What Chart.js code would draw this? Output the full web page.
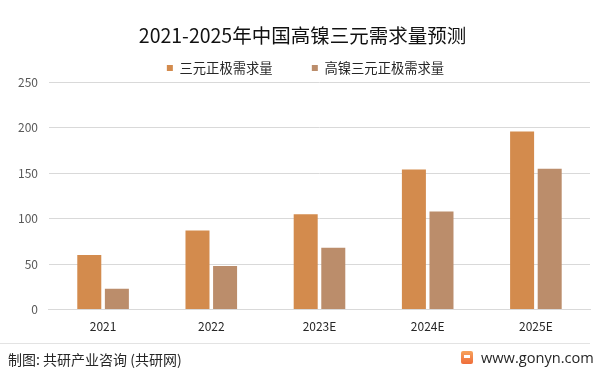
<!DOCTYPE html>
<html><head><meta charset="utf-8">
<script src="https://cdn.jsdelivr.net/npm/chart.js@4/dist/chart.umd.min.js"></script>
<style>
html,body{margin:0;padding:0;background:#fff;}
#wrap{position:relative;width:602px;height:374px;overflow:hidden;font-family:"Noto Sans CJK SC","Noto Sans",sans-serif;}
canvas{position:absolute;left:0;top:0;}
#line{position:absolute;left:0;top:343px;width:590px;height:1px;background:#e3e3e3;}
#src{position:absolute;left:8px;top:349px;font-size:14px;color:#262626;line-height:20px;}
#site{position:absolute;left:481px;top:347px;font-size:14.6px;color:#262626;line-height:20px;font-family:"Open Sans","Noto Sans",sans-serif;}
#logo{position:absolute;left:461px;top:351px;width:12px;height:13px;background:linear-gradient(#f7a35c,#ef6d3a);border-radius:2px;}
#logo:after{content:"";position:absolute;left:3px;top:4px;width:6px;height:3px;background:#fff;}
</style></head>
<body><div id="wrap"><canvas id="c" width="602" height="374"></canvas>
<div id="line"></div>
<div id="src">制图: 共研产业咨询 (共研网)</div>
<div id="logo"></div><div id="site">www.gonyn.com</div>
</div>
<script>
const categories = ["2021", "2022", "2023E", "2024E", "2025E"];
const seriesNames = ["三元正极需求量", "高镍三元正极需求量"];
const cathodeDemand = [60, 87, 105, 154, 196];
const highNickelDemand = [23, 48, 68, 108, 155];
const yTicks = [0, 50, 100, 150, 200, 250];

const shiftBlocks = {
  id: 'shiftBlocks',
  afterLayout(chart) {
    if (chart.legend) { chart.legend.left += 7; chart.legend.right += 7; }
    if (chart.titleBlock) { chart.titleBlock.left += 4; chart.titleBlock.right += 4; }
  }
};

new Chart(document.getElementById('c'), {
  type: 'bar',
  data: {
    labels: categories,
    datasets: [
      {label: seriesNames[0], data: cathodeDemand, backgroundColor: '#D38B4D', categoryPercentage: 0.51, barPercentage: 0.87},
      {label: seriesNames[1], data: highNickelDemand, backgroundColor: '#BB8D6B', categoryPercentage: 0.51, barPercentage: 0.87}
    ]
  },
  plugins: [shiftBlocks],
  options: {
    responsive: false,
    animation: false,
    layout: {padding: {left: 7, right: 12, top: 14, bottom: 30}},
    plugins: {
      title: {display: true, text: '2021-2025年中国高镍三元需求量预测', color: '#111', font: {family: '"Noto Sans CJK SC"', size: 19.5, weight: 'normal'}, padding: {top: 9.5, bottom: 8.4}},
      legend: {position: 'top', maxHeight: 27, labels: {boxWidth: 6, boxHeight: 6, color: '#262626', font: {family: '"Noto Sans CJK SC"', size: 13.3}, padding: 6,
        generateLabels: function(chart) {
          const items = Chart.defaults.plugins.legend.labels.generateLabels(chart);
          items.forEach((it, i) => { if (i < items.length - 1) it.text = it.text + '\u2003\u2003\u2002'; });
          return items;
        }}},
      tooltip: {enabled: false}
    },
    scales: {
      x: {grid: {display: false, drawTicks: false}, border: {color: '#d9d9d9'},
          ticks: {color: '#262626', font: {family: '"Noto Sans CJK SC"', size: 12}, padding: 10}},
      y: {min: 0, max: 250, afterBuildTicks: a => { a.ticks = yTicks.map(v => ({value: v})); },
          grid: {color: '#d9d9d9', drawTicks: false}, border: {display: false},
          ticks: {color: '#595959', font: {family: '"Noto Sans CJK SC"', size: 12}, padding: 11}}
    }
  }
});
</script></body></html>
